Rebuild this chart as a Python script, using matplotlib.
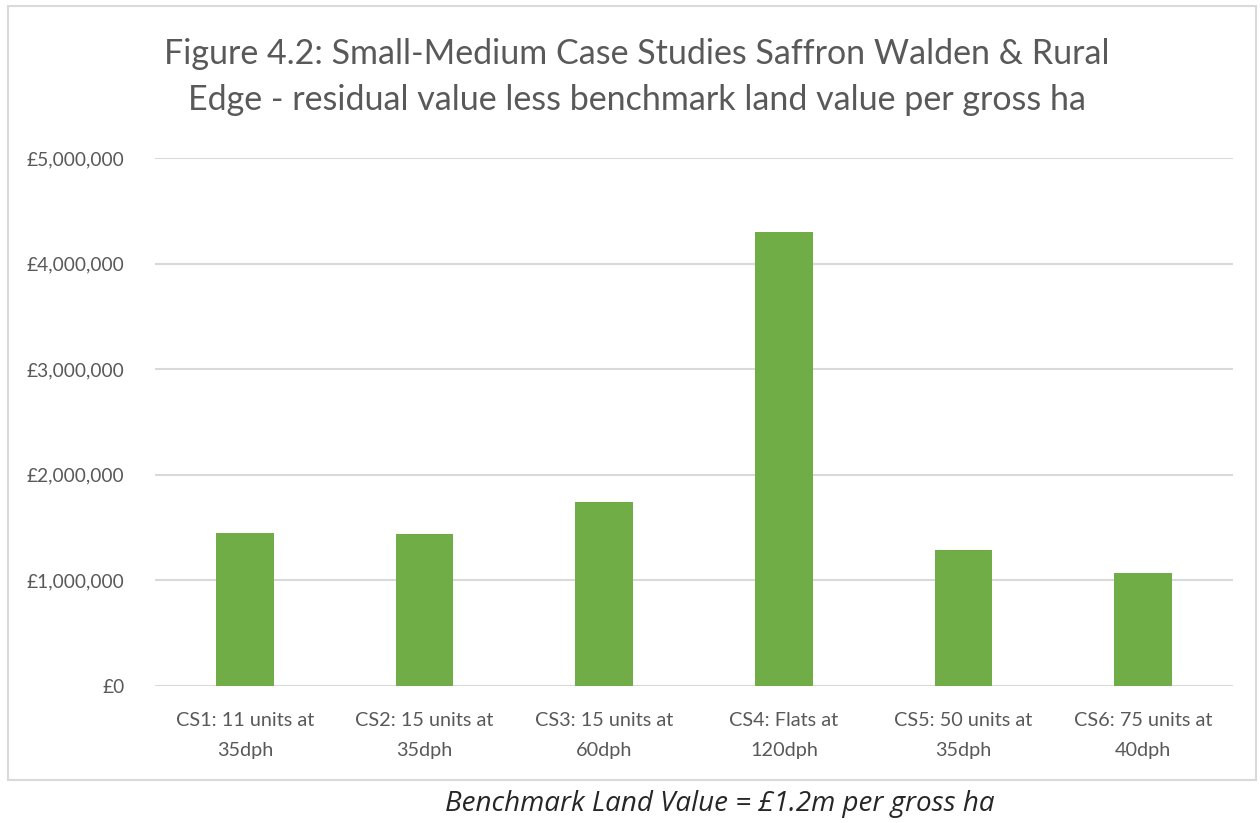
import matplotlib.pyplot as plt
from matplotlib.patches import Rectangle
from matplotlib.ticker import FuncFormatter

categories = ["CS1: 11 units at\n35dph", "CS2: 15 units at\n35dph", "CS3: 15 units at\n60dph",
              "CS4: Flats at\n120dph", "CS5: 50 units at\n35dph", "CS6: 75 units at\n40dph"]
values = [1445000, 1435000, 1745000, 4300000, 1290000, 1070000]
yticks = [0, 1000000, 2000000, 3000000, 4000000, 5000000]

title = "Figure 4.2: Small-Medium Case Studies Saffron Walden & Rural\nEdge - residual value less benchmark land value per gross ha"
caption = "Benchmark Land Value = £1.2m per gross ha"

grey = "#595959"
plt.rcParams["font.family"] = ["Lato", "DejaVu Sans"]

fig = plt.figure(figsize=(12.6, 8.23), dpi=100)
ax = fig.add_axes([155 / 1260, 1 - 686 / 823, (1233 - 155) / 1260, (686 - 158) / 823])

# chart frame
fig.patches.append(Rectangle((8 / 1260, 1 - 780 / 823), 1248 / 1260, 774 / 823,
                             transform=fig.transFigure, fill=False, edgecolor="#D9D9D9", lw=1.5))

x = range(len(categories))
ax.bar(x, values, width=0.32, color="#70AD47", zorder=3)
ax.set_xlim(-0.5, len(categories) - 0.5)
ax.set_ylim(0, 5000000)
ax.set_yticks(yticks)
ax.yaxis.set_major_formatter(FuncFormatter(lambda v, p: "£{:,.0f}".format(v)))
ax.set_xticks(list(x))
ax.set_xticklabels(categories, fontsize=14.3, color=grey, linespacing=1.9)
ax.tick_params(axis="y", labelsize=13.8, labelcolor=grey, length=0, pad=22)
ax.tick_params(axis="x", length=0, pad=19)
ax.grid(axis="y", color="#D9D9D9", lw=1.5, zorder=0)
for s in ax.spines.values():
    s.set_visible(False)

fig.text(637 / 1260, 1 - 77 / 823, title, ha="center", va="center", fontsize=24.5,
         color=grey, linespacing=1.55)
fig.text(720 / 1260, 1 - 804 / 823, caption, ha="center", va="center", fontsize=20,
         style="italic", color="#262626", family=["Open Sans", "DejaVu Sans"])

plt.savefig("out.png", dpi=100)
